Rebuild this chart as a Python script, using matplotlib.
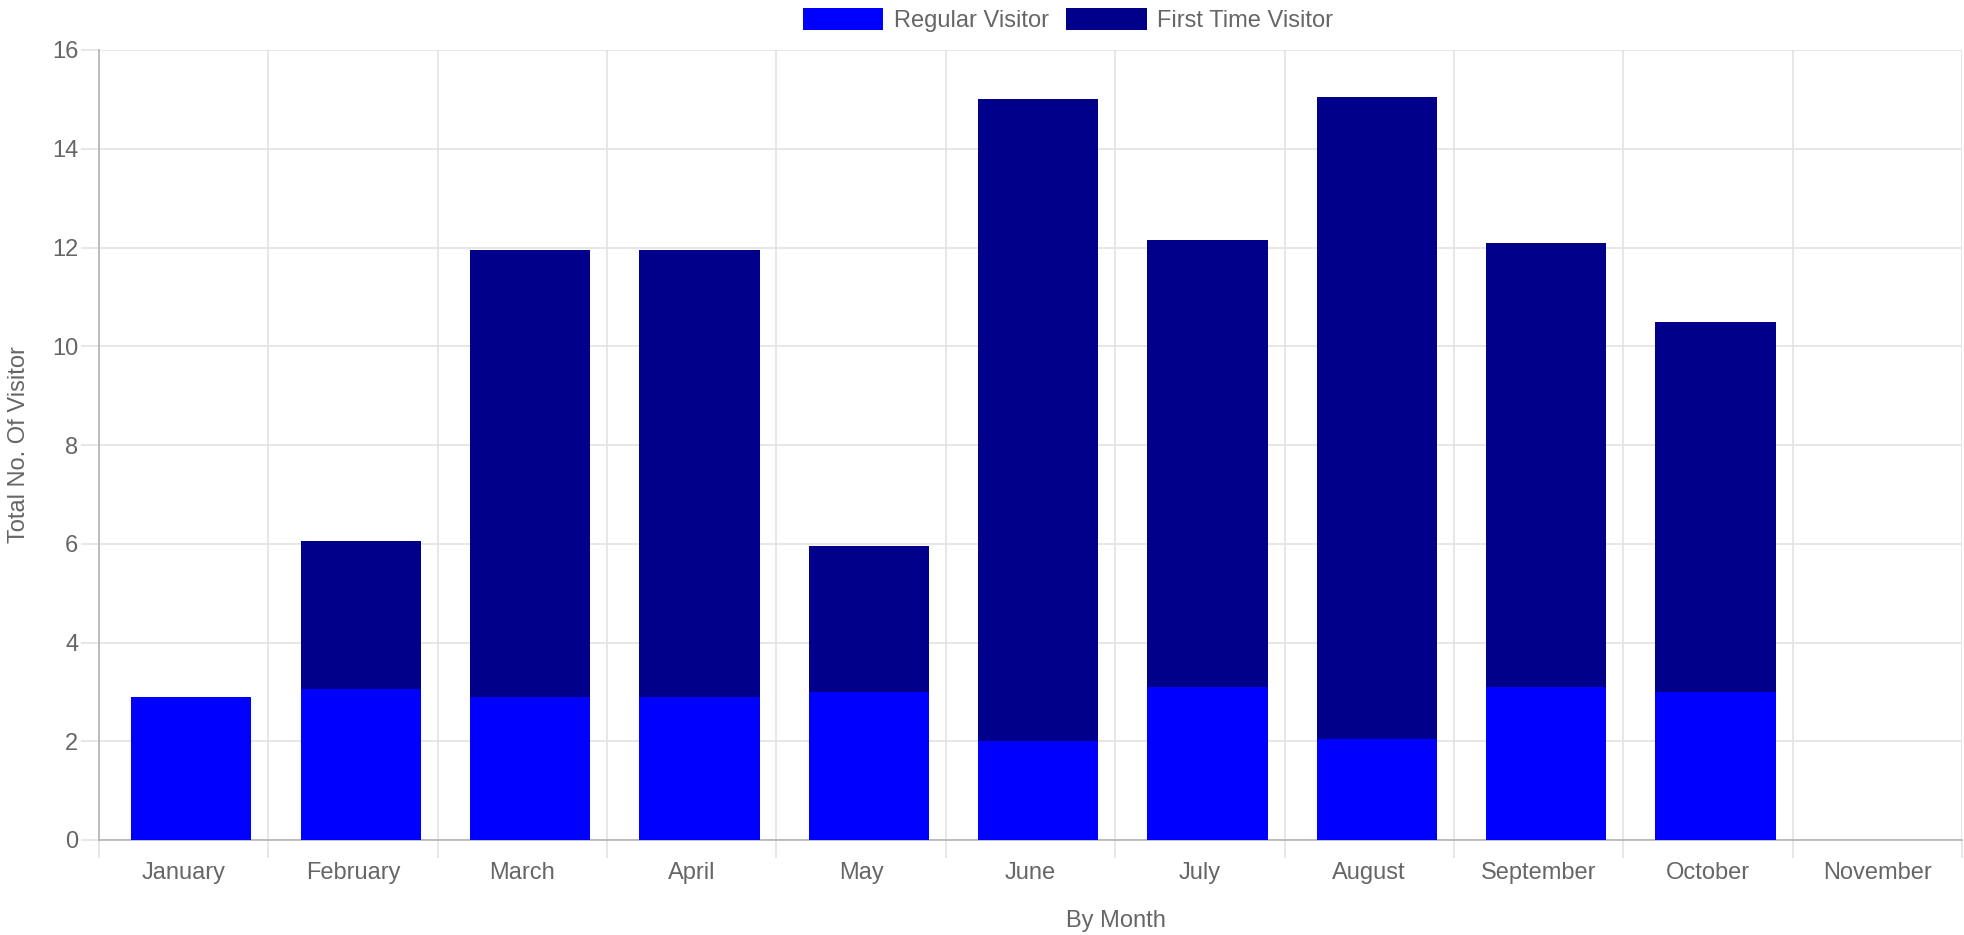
import numpy as np
import matplotlib.pyplot as plt
from matplotlib.ticker import FixedLocator

plt.rcParams["font.family"] = ["Liberation Sans", "DejaVu Sans"]

months = ["January", "February", "March", "April", "May", "June",
          "July", "August", "September", "October", "November"]
regular = [2.9, 3.05, 2.9, 2.9, 3.0, 2.0, 3.1, 2.05, 3.1, 3.0, 0]
first_time = [0, 3.0, 9.05, 9.05, 2.95, 13.0, 9.05, 13.0, 9.0, 7.5, 0]

TEXT = "#666666"
GRID = "#e3e3e3"
AXIS = "#b3b3b3"
FS = 17

fig = plt.figure(figsize=(19.64, 9.35), dpi=100)
ax = fig.add_axes([99 / 1964, 1 - 840 / 935, (1962 - 99) / 1964, 790 / 935])

x = np.arange(len(months))
# bars in the source sit a touch right of the category centre
xb = x + 0.045
ax.bar(xb, regular, width=0.71, color="#0000ff", label="Regular Visitor", zorder=3)
ax.bar(xb, first_time, width=0.71, bottom=regular, color="#00008b",
       label="First Time Visitor", zorder=3)

ax.set_xlim(-0.5, len(months) - 0.5)
ax.set_ylim(0, 16)
ax.set_yticks(np.arange(0, 17, 2))

# gridlines between categories, labels at centres
ax.xaxis.set_major_locator(FixedLocator(np.arange(-0.5, len(months), 1.0)))
ax.xaxis.set_minor_locator(FixedLocator(x))
ax.set_xticklabels([], minor=False)
ax.set_xticklabels(months, minor=True)
ax.tick_params(axis="x", which="major", length=13, color=GRID, width=1.2)
ax.tick_params(axis="x", which="minor", length=0, pad=16, labelsize=FS,
               labelcolor=TEXT)
ax.tick_params(axis="y", length=13, color=GRID, width=1.2, pad=2,
               labelsize=FS, labelcolor=TEXT)

ax.grid(True, which="major", color=GRID, linewidth=1.2, zorder=0)
for side in ("top", "right"):
    ax.spines[side].set_visible(False)
for side in ("left", "bottom"):
    ax.spines[side].set_color(AXIS)
    ax.spines[side].set_linewidth(1.2)

fig.text(19 / 1964, 1 - 445 / 935, "Total No. Of Visitor", rotation=90,
         ha="center", va="center", fontsize=FS, color=TEXT)
fig.text(1116 / 1964, 1 - 921 / 935, "By Month", ha="center", va="center",
         fontsize=FS, color=TEXT)

fig.legend(loc="center", bbox_to_anchor=(1068 / 1964, 1 - 20 / 935), ncol=2,
           frameon=False, fontsize=FS, labelcolor=TEXT, handlelength=3.4,
           handleheight=1.1, handletextpad=0.45, columnspacing=0.75)

fig.savefig("out.png", dpi=100, facecolor="white")
